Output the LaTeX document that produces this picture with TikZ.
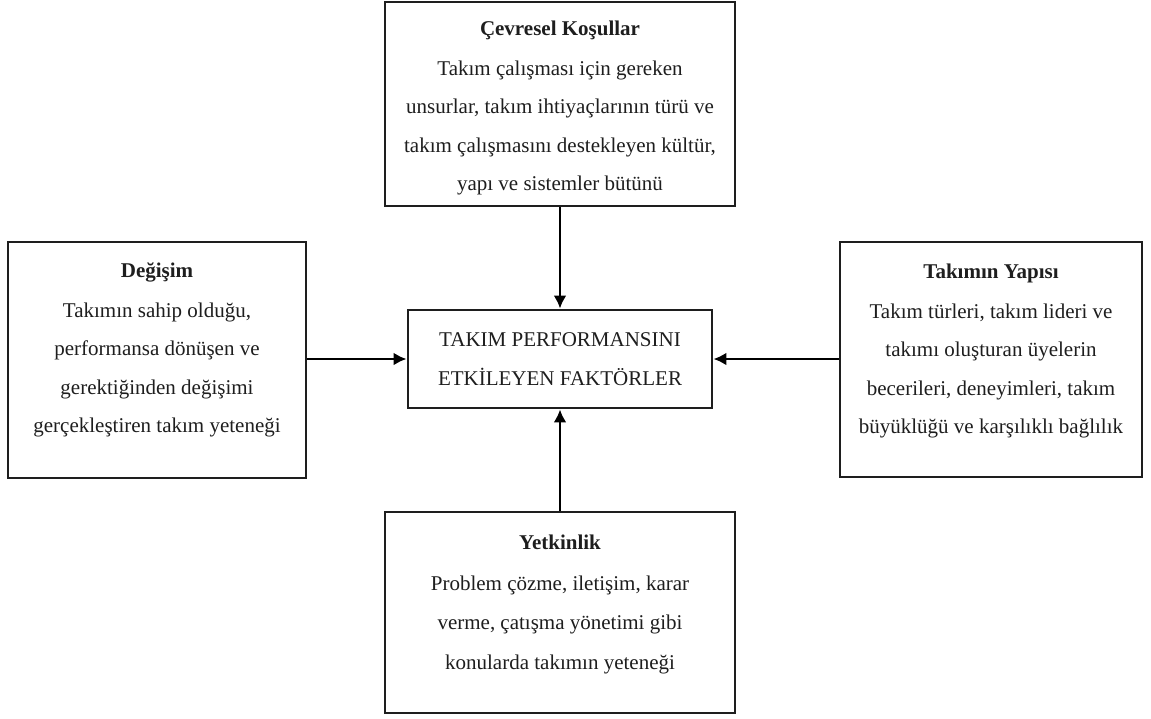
\documentclass[tikz,border=0pt]{standalone}
\usepackage{fontspec}
\setmainfont{Liberation Serif}
\usetikzlibrary{arrows.meta,calc}
\definecolor{ink}{HTML}{1E1E1E}
\tikzset{
  frame/.style={draw=ink, line width=1.9pt, inner sep=0pt, fill=white},
  txt/.style={align=center, text=ink, inner sep=0pt,
    font=\fontsize{21}{38.5}\selectfont},
  arr/.style={draw=black, line width=2.7pt,
    -{Latex[length=13pt,width=13pt]}, shorten >=0.5pt}
}
\newcommand{\hd}[1]{\textbf{#1}\\[1.5pt]}
\begin{document}
\begin{tikzpicture}[x=1pt,y=-1pt]
\useasboundingbox (0,0) rectangle (1151,718);

% frames
\node[frame, minimum width=350pt, minimum height=204pt] (env) at (560,104) {};
\node[frame, minimum width=298pt, minimum height=236pt] (chg) at (157,360) {};
\node[frame, minimum width=302pt, minimum height=235pt] (str) at (991,359.5) {};
\node[frame, minimum width=304pt, minimum height=98pt] (core) at (560,359) {};
\node[frame, minimum width=350pt, minimum height=201pt] (cmp) at (560,612.5) {};

% texts
\node[txt] (envT) at (560,108) {\hd{Çevresel Koşullar}Takım çalışması için gereken\\unsurlar, takım ihtiyaçlarının türü ve\\takım çalışmasını destekleyen kültür,\\yapı ve sistemler bütünü};
\node[txt] (chgT) at (157,350) {\hd{Değişim}Takımın sahip olduğu,\\performansa dönüşen ve\\gerektiğinden değişimi\\gerçekleştiren takım yeteneği};
\node[txt] (strT) at (991,351) {\hd{Takımın Yapısı}Takım türleri, takım lideri ve\\takımı oluşturan üyelerin\\becerileri, deneyimleri, takım\\büyüklüğü ve karşılıklı bağlılık};
\node[txt, font=\fontsize{21}{39.5}\selectfont] (cmpT) at (560,604) {\hd{Yetkinlik}Problem çözme, iletişim, karar\\verme, çatışma yönetimi gibi\\konularda takımın yeteneği};
\node[txt] (coreT) at (560,359) {TAKIM PERFORMANSINI\\ETKİLEYEN FAKTÖRLER};

% connectors
\draw[arr] (env.south) -- (core.north);
\draw[arr] (cmp.north) -- (core.south);
\draw[arr] (chg.east |- core.west) -- (core.west);
\draw[arr] (str.west |- core.east) -- (core.east);
\end{tikzpicture}
\end{document}
